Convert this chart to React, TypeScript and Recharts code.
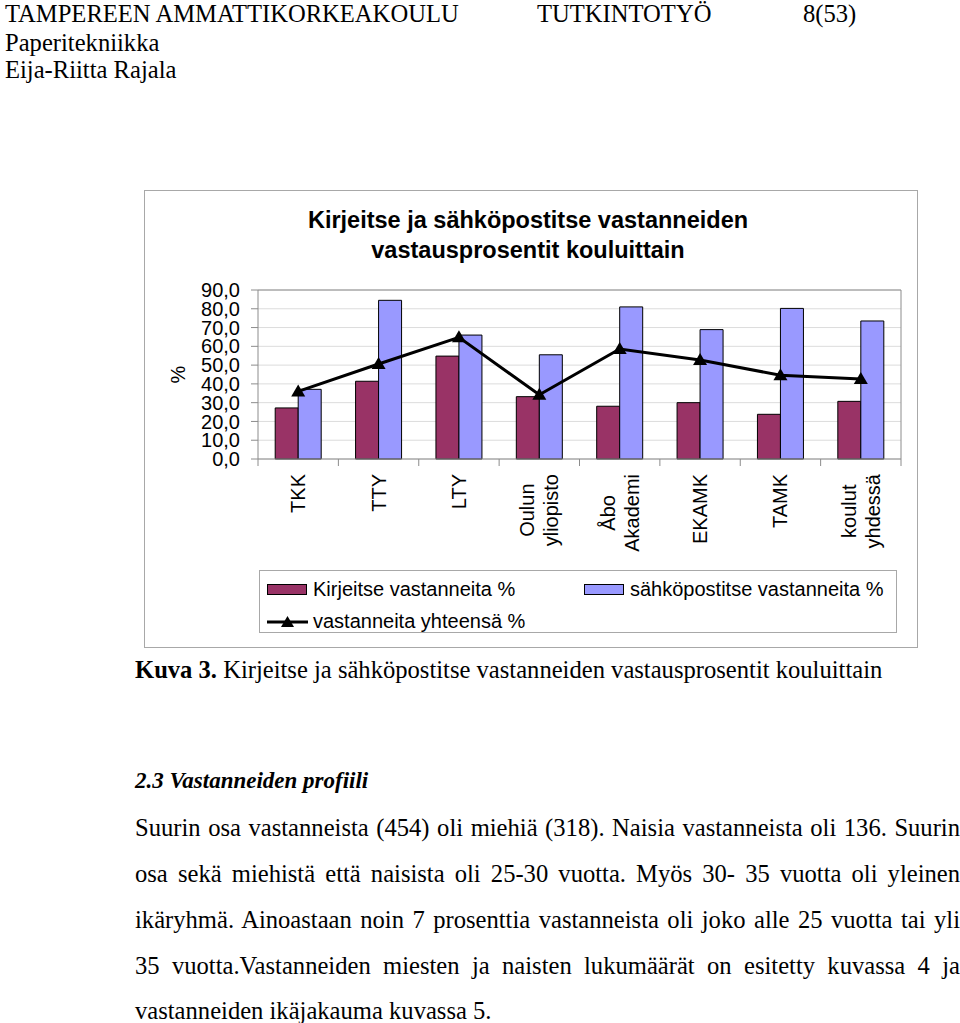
import React from 'react';
import { ComposedChart, Bar, Line, XAxis, YAxis, CartesianGrid, ReferenceLine, Legend } from 'recharts';

// ---- data ----
const schools = ['TKK', 'TTY', 'LTY', 'Oulun\nyliopisto', 'Åbo\nAkademi', 'EKAMK', 'TAMK', 'koulut\nyhdessä'];
const kirjeitse = [27.2, 41.4, 54.8, 33.2, 28.1, 30.0, 23.8, 30.7];
const sahkoposti = [37.1, 84.5, 66.0, 55.5, 81.0, 68.9, 80.2, 73.5];
const yhteensa = [36.0, 50.6, 64.8, 34.2, 58.6, 52.7, 44.6, 42.6];
const yTicks = [0, 10, 20, 30, 40, 50, 60, 70, 80, 90];
const seriesNames = ['Kirjeitse vastanneita %', 'sähköpostitse vastanneita %', 'vastanneita yhteensä %'];
const chartTitle = ['Kirjeitse ja sähköpostitse vastanneiden', 'vastausprosentit kouluittain'];

const headerLeft = ['TAMPEREEN AMMATTIKORKEAKOULU', 'Paperitekniikka', 'Eija-Riitta Rajala'];
const headerMid = 'TUTKINTOTYÖ';
const headerRight = '8(53)';
const captionBold = 'Kuva 3.';
const captionText = ' Kirjeitse ja sähköpostitse vastanneiden vastausprosentit kouluittain';
const heading = '2.3 Vastanneiden profiili';
const paragraph = [
  'Suurin osa vastanneista (454) oli miehiä (318). Naisia vastanneista oli 136. Suurin',
  'osa sekä miehistä että naisista oli 25-30 vuotta. Myös 30- 35 vuotta oli yleinen',
  'ikäryhmä. Ainoastaan noin 7 prosenttia vastanneista oli joko alle 25 vuotta tai yli',
  '35 vuotta.Vastanneiden miesten ja naisten lukumäärät on esitetty kuvassa 4 ja',
  'vastanneiden ikäjakauma kuvassa 5.',
];

const data = schools.map((name, i) => ({
  name,
  kirjeitse: kirjeitse[i],
  sahkoposti: sahkoposti[i],
  yhteensa: yhteensa[i],
}));

// ---- styles ----
const SANS = '"Liberation Sans", Arial, sans-serif';
const SERIF = '"Liberation Serif", "Times New Roman", serif';
const MAROON = '#993366';
const BLUE = '#9999FF';
const GRAY = '#8c8c8c';
const BODY = 24.6;

let measureCtx: CanvasRenderingContext2D | null = null;
function measure(t: string, font: string): number {
  if (!measureCtx) {
    const c = document.createElement('canvas');
    measureCtx = c.getContext('2d');
  }
  if (!measureCtx) return t.length * 10;
  measureCtx.font = font;
  return measureCtx.measureText(t).width;
}

const XTick = (props: any) => {
  const { x, y, payload, index, visibleTicksCount } = props;
  const half = payload && typeof payload.offset === 'number' && payload.offset > 0 ? payload.offset : 40.2;
  const lines = String(payload.value).split('\n');
  const maxLen = Math.max(...lines.map((l) => measure(l, `20px ${SANS}`)));
  const cy = y + 15 + maxLen / 2;
  const spacing = 24;
  return (
    <g>
      <line x1={x - half} x2={x - half} y1={y} y2={y + 7} stroke={GRAY} />
      {index === visibleTicksCount - 1 && (
        <line x1={x + half} x2={x + half} y1={y} y2={y + 7} stroke={GRAY} />
      )}
      {lines.map((l, i) => {
        const lx = x + (i - (lines.length - 1) / 2) * spacing;
        return (
          <text
            key={i}
            x={lx}
            y={cy}
            transform={`rotate(-90 ${lx} ${cy})`}
            textAnchor="middle"
            dominantBaseline="central"
            fontSize={20}
            fontFamily={SANS}
            fill="#000"
          >
            {l}
          </text>
        );
      })}
    </g>
  );
};

const TriangleDot = (props: any) => {
  const { cx, cy } = props;
  if (cx == null || cy == null) return null;
  return <path d={`M${cx},${cy - 7} L${cx + 7},${cy + 5} L${cx - 7},${cy + 5} Z`} fill="#000" />;
};

const LegendBox = () => {
  const textStyle: React.CSSProperties = {
    position: 'absolute',
    fontFamily: SANS,
    fontSize: 20,
    lineHeight: '20px',
    whiteSpace: 'nowrap',
    color: '#000',
  };
  const sw = (left: number, top: number, fill: string) => (
    <div
      style={{
        position: 'absolute',
        left,
        top,
        width: 40,
        height: 11,
        background: fill,
        border: '1px solid #000',
        boxSizing: 'border-box',
      }}
    />
  );
  return (
    <div
      style={{
        position: 'relative',
        width: 638,
        height: 63,
        border: '1px solid #a8a8a8',
        boxSizing: 'border-box',
        background: '#fff',
      }}
    >
      {sw(7, 13, MAROON)}
      <div style={{ ...textStyle, left: 53, top: 8 }}>{seriesNames[0]}</div>
      {sw(324, 13, BLUE)}
      <div style={{ ...textStyle, left: 370, top: 8 }}>{seriesNames[1]}</div>
      <svg style={{ position: 'absolute', left: 7, top: 44 }} width={41} height={14}>
        <line x1={0} x2={41} y1={7} y2={7} stroke="#000" strokeWidth={3} />
        <path d="M20.5,1 L27,12 L14,12 Z" fill="#000" />
      </svg>
      <div style={{ ...textStyle, left: 53, top: 40 }}>{seriesNames[2]}</div>
    </div>
  );
};

const YLabel = (props: any) => {
  const vb = props.viewBox || { x: 0, y: 100, width: 114, height: 169 };
  const lx = vb.x + 34;
  const ly = vb.y + vb.height / 2;
  return (
    <text
      x={lx}
      y={ly}
      transform={`rotate(-90 ${lx} ${ly})`}
      textAnchor="middle"
      dominantBaseline="central"
      fontSize={20}
      fontFamily={SANS}
      fill="#000"
    >
      %
    </text>
  );
};

const abs = (left: number, top: number, fontSize: number, extra: React.CSSProperties = {}): React.CSSProperties => ({
  position: 'absolute',
  left,
  top,
  fontSize,
  lineHeight: `${fontSize}px`,
  whiteSpace: 'nowrap',
  fontFamily: SERIF,
  color: '#000',
  ...extra,
});

export default function App() {
  const paraTops = [816, 862, 908, 954, 999];
  return (
    <div
      style={{
        position: 'absolute',
        left: 0,
        top: 0,
        width: 960,
        height: 1023,
        background: '#fff',
        overflow: 'hidden',
      }}
    >
      {/* page header */}
      <div style={abs(5, 2, BODY)}>{headerLeft[0]}</div>
      <div style={abs(537, 2, BODY)}>{headerMid}</div>
      <div style={abs(803, 2, BODY)}>{headerRight}</div>
      <div style={abs(5, 31, BODY)}>{headerLeft[1]}</div>
      <div style={abs(5, 58, BODY)}>{headerLeft[2]}</div>

      {/* chart frame */}
      <div
        style={{
          position: 'absolute',
          left: 144,
          top: 190,
          width: 774,
          height: 458,
          border: '1px solid #a8a8a8',
          boxSizing: 'border-box',
        }}
      />
      <div
        style={{
          position: 'absolute',
          left: 228,
          top: 205,
          width: 600,
          textAlign: 'center',
          fontFamily: SANS,
          fontWeight: 'bold',
          fontSize: 23.5,
          lineHeight: '30px',
          color: '#000',
        }}
      >
        <div>{chartTitle[0]}</div>
        <div>{chartTitle[1]}</div>
      </div>
      <div style={{ position: 'absolute', left: 144, top: 190 }}>
        <ComposedChart
          width={774}
          height={458}
          data={data}
          margin={{ top: 100, right: 17, left: 0, bottom: 0 }}
          barCategoryGap="21.4%"
          barGap={0}
        >
          <CartesianGrid horizontal vertical={false} stroke="#dcdcdc" />
          <CartesianGrid
            horizontal={false}
            vertical
            stroke={GRAY}
            verticalCoordinatesGenerator={({ offset }: any) => [offset.left + offset.width]}
          />
          <XAxis
            dataKey="name"
            interval={0}
            height={189}
            tickLine={false}
            tickSize={0}
            tickMargin={0}
            axisLine={{ stroke: GRAY }}
            tick={<XTick />}
          />
          <YAxis
            width={114}
            domain={[0, 90]}
            ticks={yTicks}
            interval={0}
            tickSize={7}
            tickMargin={11}
            axisLine={{ stroke: GRAY }}
            tickLine={{ stroke: GRAY }}
            tick={{ fill: '#000', fontSize: 20, fontFamily: SANS }}
            tickFormatter={(v: number) => v.toFixed(1).replace('.', ',')}
            label={<YLabel />}
          />
          <ReferenceLine y={90} stroke={GRAY} />
          <Bar dataKey="kirjeitse" name={seriesNames[0]} fill={MAROON} stroke="#000" strokeWidth={1} isAnimationActive={false} />
          <Bar dataKey="sahkoposti" name={seriesNames[1]} fill={BLUE} stroke="#000" strokeWidth={1} isAnimationActive={false} />
          <Line
            dataKey="yhteensa"
            name={seriesNames[2]}
            stroke="#000"
            strokeWidth={3}
            dot={<TriangleDot />}
            activeDot={false}
            isAnimationActive={false}
          />
          <Legend
            layout="horizontal"
            verticalAlign="middle"
            align="center"
            wrapperStyle={{ position: 'absolute', left: 115, top: 380, width: 638, height: 63 }}
            content={() => <LegendBox />}
          />
        </ComposedChart>
      </div>

      {/* caption */}
      <div style={abs(135, 658, BODY)}>
        <b>{captionBold}</b>
        {captionText}
      </div>

      <div style={abs(135, 769, 23, { fontWeight: 'bold', fontStyle: 'italic' })}>{heading}</div>

      {paragraph.map((line, i) => (
        <div
          key={i}
          style={abs(135, paraTops[i], BODY, {
            width: 825,
            textAlign: i < paragraph.length - 1 ? 'justify' : 'left',
            textAlignLast: i < paragraph.length - 1 ? 'justify' : 'auto',
            whiteSpace: 'normal',
          })}
        >
          {line}
        </div>
      ))}
    </div>
  );
}
